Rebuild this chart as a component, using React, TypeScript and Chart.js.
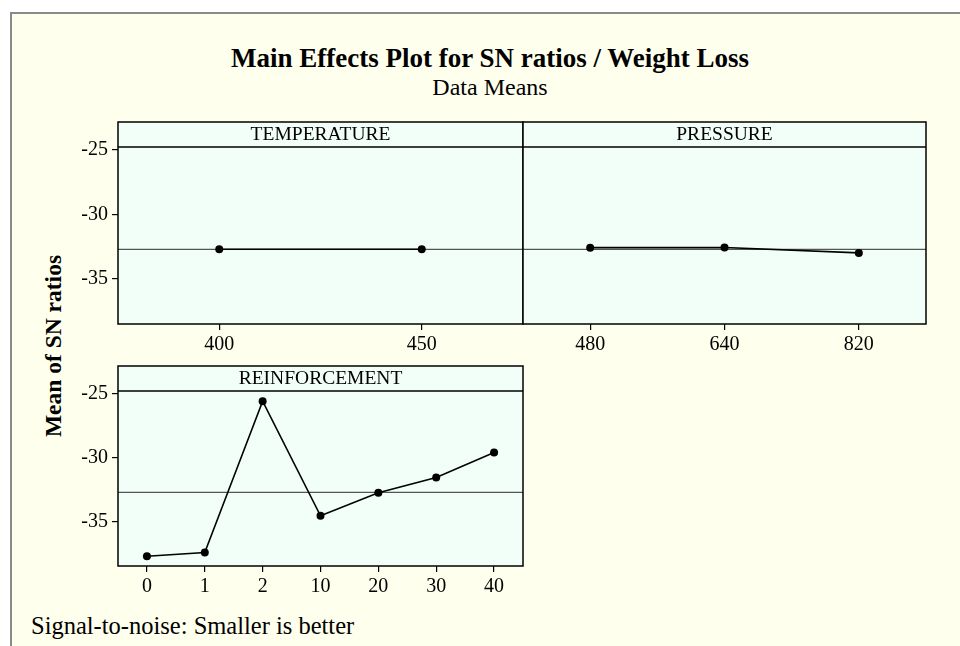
import React, { useEffect, useRef } from "react";
import { Chart, registerables } from "chart.js";

Chart.register(...registerables);

// ---- Data ----
const TITLE = "Main Effects Plot for SN ratios / Weight Loss";
const SUBTITLE = "Data Means";
const Y_LABEL = "Mean of SN ratios";
const FOOTNOTE = "Signal-to-noise: Smaller is better";

const TEMPERATURE_LEVELS = ["400", "450"];
const TEMPERATURE_SN = [-32.71, -32.71];

const PRESSURE_LEVELS = ["480", "640", "820"];
const PRESSURE_SN = [-32.58, -32.57, -32.99];

const REINFORCEMENT_LEVELS = ["0", "1", "2", "10", "20", "30", "40"];
const REINFORCEMENT_SN = [-37.73, -37.45, -25.58, -34.56, -32.76, -31.56, -29.61];

const OVERALL_MEAN = -32.72;
const Y_TICKS = [-35, -30, -25];
const Y_MIN = -38.5;
const Y_MAX = -24.78;

// ---- Styles ----
const FONT = "'Liberation Serif', 'Times New Roman', serif";
const OUTER_BG = "#FFFFED";
const PANEL_FILL = "#F2FFF9";
const MEAN_COLOR = "#555555";
const HEADER_H = 25;
const Y_AXIS_W = 58;
const X_AXIS_H = 40;
const PAD = 2;

const panelPlugin = {
  id: "panelFrame",
  beforeDraw(chart: any) {
    const { ctx, chartArea: a } = chart;
    const top = a.top - HEADER_H;
    ctx.save();
    ctx.fillStyle = PANEL_FILL;
    ctx.fillRect(a.left, top, a.right - a.left, a.bottom - top);
    ctx.restore();
  },
  beforeDatasetsDraw(chart: any) {
    const { ctx, chartArea: a, scales } = chart;
    const top = a.top - HEADER_H;
    const y = scales.y.getPixelForValue(OVERALL_MEAN);
    ctx.save();
    ctx.strokeStyle = MEAN_COLOR;
    ctx.lineWidth = 1.2;
    ctx.beginPath();
    ctx.moveTo(a.left, y);
    ctx.lineTo(a.right, y);
    ctx.stroke();
    ctx.strokeStyle = "#000";
    ctx.lineWidth = 1.5;
    ctx.strokeRect(a.left, top, a.right - a.left, a.bottom - top);
    ctx.beginPath();
    ctx.moveTo(a.left, a.top);
    ctx.lineTo(a.right, a.top);
    ctx.stroke();
    ctx.restore();
  },
};

function makeConfig(header: string, labels: string[], values: number[], showY: boolean, padLeft: number): any {
  return {
    type: "line",
    data: {
      labels,
      datasets: [
        {
          data: values,
          borderColor: "#000",
          backgroundColor: "#000",
          borderWidth: 1.6,
          pointRadius: 4,
          pointHoverRadius: 4,
          pointBorderWidth: 0,
          pointBackgroundColor: "#000",
          tension: 0,
        },
      ],
    },
    options: {
      animation: false,
      responsive: false,
      maintainAspectRatio: false,
      devicePixelRatio: 1,
      layout: { autoPadding: false, padding: { top: PAD, right: PAD, left: padLeft, bottom: 0 } },
      plugins: {
        legend: { display: false },
        tooltip: { enabled: false },
        title: {
          display: true,
          text: header,
          color: "#000",
          fullSize: false,
          padding: 0,
          font: { family: FONT, size: 19.5, weight: "normal", lineHeight: HEADER_H + "px" },
        },
      },
      scales: {
        x: {
          type: "category",
          offset: true,
          border: { display: false },
          grid: { display: true, drawOnChartArea: false, drawTicks: true, tickLength: 6, color: "#000", lineWidth: 1.2 },
          ticks: { color: "#000", font: { family: FONT, size: 20 }, padding: 3, maxRotation: 0, autoSkip: false },
          afterFit: (s: any) => {
            s.height = X_AXIS_H;
          },
        },
        y: {
          type: "linear",
          display: showY,
          min: Y_MIN,
          max: Y_MAX,
          border: { display: false },
          grid: { display: true, drawOnChartArea: false, drawTicks: true, tickLength: 6, color: "#000", lineWidth: 1.2 },
          ticks: { color: "#000", font: { family: FONT, size: 20 }, padding: 4 },
          afterBuildTicks: (s: any) => {
            s.ticks = Y_TICKS.map((v) => ({ value: v }));
          },
          afterFit: (s: any) => {
            s.width = showY ? Y_AXIS_W : 0;
          },
        },
      },
    },
    plugins: [panelPlugin],
  };
}

function Panel(props: {
  header: string;
  labels: string[];
  values: number[];
  showY: boolean;
  left: number;
  top: number;
  width: number;
  height: number;
  padLeft: number;
}) {
  const ref = useRef<HTMLCanvasElement | null>(null);
  useEffect(() => {
    if (!ref.current) return;
    const chart = new Chart(ref.current, makeConfig(props.header, props.labels, props.values, props.showY, props.padLeft));
    return () => chart.destroy();
  }, []);
  return (
    <canvas
      ref={ref}
      width={props.width}
      height={props.height}
      style={{ position: "absolute", left: props.left, top: props.top, width: props.width, height: props.height }}
    />
  );
}

export default function App() {
  return (
    <div style={{ position: "absolute", left: 0, top: 0, width: 960, height: 646, overflow: "hidden", background: "#fff" }}>
      <div
        style={{
          position: "absolute",
          left: 10,
          top: 12,
          width: 960,
          height: 660,
          background: OUTER_BG,
          borderLeft: "2px solid #8a8a8a",
          borderTop: "2px solid #8a8a8a",
        }}
      />
      <div
        style={{
          position: "absolute",
          left: 20,
          width: 940,
          top: 43,
          textAlign: "center",
          fontFamily: FONT,
          fontWeight: "bold",
          fontSize: 27,
          lineHeight: "30px",
          color: "#000",
          whiteSpace: "nowrap",
        }}
      >
        {TITLE}
      </div>
      <div
        style={{
          position: "absolute",
          left: 20,
          width: 940,
          top: 74,
          textAlign: "center",
          fontFamily: FONT,
          fontSize: 24,
          lineHeight: "26px",
          color: "#000",
          whiteSpace: "nowrap",
        }}
      >
        {SUBTITLE}
      </div>
      <div
        style={{
          position: "absolute",
          left: 53 - 150,
          top: 346 - 15,
          width: 300,
          height: 30,
          textAlign: "center",
          fontFamily: FONT,
          fontWeight: "bold",
          fontSize: 23.5,
          lineHeight: "30px",
          color: "#000",
          whiteSpace: "nowrap",
          transform: "rotate(-90deg)",
        }}
      >
        {Y_LABEL}
      </div>
      <div
        style={{
          position: "absolute",
          left: 31,
          top: 613,
          fontFamily: FONT,
          fontSize: 24.5,
          lineHeight: "26px",
          color: "#000",
          whiteSpace: "nowrap",
        }}
      >
        {FOOTNOTE}
      </div>
      <Panel
        header="TEMPERATURE"
        labels={TEMPERATURE_LEVELS}
        values={TEMPERATURE_SN}
        showY={true}
        left={60}
        top={120}
        width={Y_AXIS_W + 405 + PAD}
        height={PAD + HEADER_H + 177 + X_AXIS_H}
        padLeft={0}
      />
      <Panel
        header="PRESSURE"
        labels={PRESSURE_LEVELS}
        values={PRESSURE_SN}
        showY={false}
        left={523 - PAD}
        top={120}
        width={PAD + 403 + PAD}
        height={PAD + HEADER_H + 177 + X_AXIS_H}
        padLeft={PAD}
      />
      <Panel
        header="REINFORCEMENT"
        labels={REINFORCEMENT_LEVELS}
        values={REINFORCEMENT_SN}
        showY={true}
        left={60}
        top={364}
        width={Y_AXIS_W + 405 + PAD}
        height={PAD + HEADER_H + 175 + X_AXIS_H}
        padLeft={0}
      />
    </div>
  );
}
